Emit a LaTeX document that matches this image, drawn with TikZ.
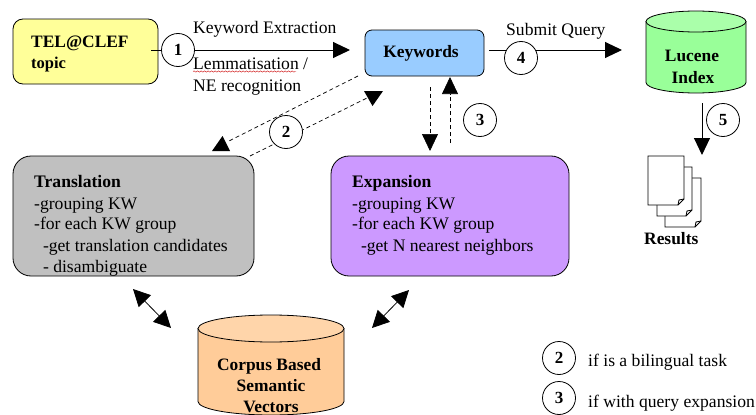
\documentclass[tikz,border=0pt]{standalone}
\usepackage{fontspec}
\setmainfont{Liberation Serif}
\usetikzlibrary{arrows.meta,decorations.pathmorphing}
\definecolor{telc}{HTML}{FFFF99}
\definecolor{kwc}{HTML}{99CCFF}
\definecolor{trc}{HTML}{C0C0C0}
\definecolor{exc}{HTML}{CC99FF}
\definecolor{luc}{HTML}{99FF99}
\definecolor{luct}{HTML}{AAFFAA}
\definecolor{coc}{HTML}{FFCC99}
\definecolor{coct}{HTML}{FFD5AA}
\tikzset{
  x=1pt,y=-1pt,
  txt/.style={inner sep=0pt,font=\fontsize{17.6}{21}\selectfont,align=left},
  btxt/.style={inner sep=0pt,font=\fontsize{17.4}{21}\selectfont\bfseries,align=center},
  box/.style={draw=black,line width=.8pt,inner sep=0pt},
  num/.style={circle,draw=black,fill=white,line width=.8pt,minimum size=33pt,inner sep=0pt,font=\fontsize{17}{18}\selectfont\bfseries},
  arr/.style={line width=1pt,-{Triangle[length=17pt,width=16pt]}},
  dashln/.style={line width=.7pt,dash pattern=on 4pt off 3pt},
  dasharr/.style={dashln,-{Triangle[length=17pt,width=16pt]}},
  tipfill/.style={fill=black,draw=none},
  biarr/.style={line width=.8pt,{Triangle[length=17pt,width=17pt]}-{Triangle[length=17pt,width=17pt]}},
  paper/.style={draw=black,fill=white,line width=.8pt},
}
\newcommand{\cyl}[7]{% left,right,top,bottom,ry,body,end
  \path[draw=black,line width=.8pt,fill=#6]
    (#1,#3+#5) -- (#1,#4-#5) arc[start angle=180,end angle=0,x radius={(#2-#1)/2},y radius=#5]
    -- (#2,#3+#5) -- cycle;
  \path[draw=black,line width=.8pt,fill=#7]
    ({(#1+#2)/2},#3+#5) ellipse[x radius={(#2-#1)/2},y radius=#5];
}
\newcommand{\docpage}[4]{% x y w h
  \path[paper] (#1,#2) -- (#1+#3,#2) -- (#1+#3,#2+#4-6) -- (#1+#3-6,#2+#4) -- (#1,#2+#4) -- cycle;
  \draw[line width=.8pt] (#1+#3,#2+#4-6) -- (#1+#3-5,#2+#4-5) -- (#1+#3-6,#2+#4);
}
\begin{document}
\begin{tikzpicture}
\useasboundingbox (0,0) rectangle (756,415);
\fill[white] (0,0) rectangle (756,415);
% boxes
\node[box,fill=telc,rounded corners=10pt,minimum width=145pt,minimum height=65pt] (tel) at (85.5,51.5) {};
\node[box,fill=kwc,rounded corners=7pt,minimum width=119pt,minimum height=46pt] (kw) at (424.5,53) {};
\node[box,fill=trc,rounded corners=18pt,minimum width=241pt,minimum height=120pt] (tr) at (133.5,216) {};
\node[box,fill=exc,rounded corners=18pt,minimum width=238pt,minimum height=120pt] (ex) at (450,216) {};
\cyl{646}{746}{11}{93}{10.5}{luc}{luct}
\cyl{198}{344}{315}{415}{13.5}{coc}{coct}
% texts
\node[btxt,anchor=base west] (teltxt) at (31,47) {TEL@CLEF};
\node[btxt,font=\fontsize{16.5}{18}\selectfont\bfseries,anchor=base west] (toptxt) at (31,68) {topic};
\node[btxt,anchor=base] (kwtxt) at (421,57) {Keywords};
\node[txt,anchor=base west] (trtxt) at (34,187) {\textbf{Translation}};
\node[txt,anchor=base west] (tr1) at (34,209.5) {-grouping KW};
\node[txt,anchor=base west] (tr2) at (34,229.5) {-for each KW group};
\node[txt,anchor=base west] (tr3) at (34,251) {\ \ -get translation candidates};
\node[txt,anchor=base west] (tr4) at (34,272) {\ \ - disambiguate};
\node[txt,anchor=base west] (extxt) at (352,187) {\textbf{Expansion}};
\node[txt,anchor=base west] (ex1) at (352,209.5) {-grouping KW};
\node[txt,anchor=base west] (ex2) at (352,229.5) {-for each KW group};
\node[txt,anchor=base west] (ex3) at (352,251) {\ \ -get N nearest neighbors};
\node[btxt,anchor=base] (lut1) at (692,61.5) {Lucene};
\node[btxt,anchor=base] (lut2) at (693,83) {Index};
\node[btxt,anchor=base] (cot1) at (269,370.5) {Corpus Based};
\node[btxt,anchor=base] (cot2) at (271,391.5) {Semantic};
\node[btxt,anchor=base] (cot3) at (271,412.5) {Vectors};
\node[btxt,anchor=base west] (res) at (644,244) {Results};
\node[txt,anchor=base west] (lkw) at (193,33) {Keyword Extraction};
\node[txt,anchor=base west] (llem) at (193,69) {Lemmatisation /};
\node[txt,anchor=base west] (lne) at (193,91.5) {NE recognition};
\node[txt,anchor=base west] (lsq) at (506,35) {Submit Query};
\node[txt,anchor=base west] (leg2) at (588,366) {if is a bilingual task};
\node[txt,anchor=base west] (leg3) at (588,407) {if with query expansion};
\draw[red!80!black,line width=.4pt,decorate,decoration={snake,amplitude=.7pt,segment length=3.5pt}] (193,71.5) -- (296,71.5);
% connector ends
\coordinate (s1) at (151,50);  \coordinate (e1) at (350,50);
\coordinate (s4) at (489,50);  \coordinate (e4) at (622,50);
\coordinate (s5) at (702,103); \coordinate (e5) at (702,155);
\coordinate (d1s) at (358,76); \coordinate (d1e) at (227,142);
\coordinate (d2s) at (250,156); \coordinate (d2e) at (367,98);
\coordinate (d3s) at (430,87); \coordinate (d3e) at (430,151);
\coordinate (d4s) at (450,143); \coordinate (d4e) at (450,77);
\coordinate (b1s) at (133,289); \coordinate (b1e) at (171,328);
\coordinate (b2s) at (372,328); \coordinate (b2e) at (409,290);
% connectors
\draw[arr] (s1) -- (e1);
\draw[arr] (s4) -- (e4);
\draw[arr] (s5) -- (e5);
\draw[dashln] (d1s) -- (d1e);
\fill[tipfill] (222.5,136) -- (230,151) -- (212,151) -- cycle;
\draw[dashln] (d2s) -- (d2e);
\fill[tipfill] (364,91) -- (383,91) -- (372.5,106) -- cycle;
\draw[dasharr] (d3s) -- (d3e);
\draw[dasharr] (d4s) -- (d4e);
\draw[biarr] (b1s) -- (b1e);
\draw[biarr] (b2s) -- (b2e);
% numbers
\node[num] (n1) at (178,50) {1};
\node[num] (n2) at (286,132) {2};
\node[num] (n3) at (480,120) {3};
\node[num] (n4) at (521,58) {4};
\node[num] (n5) at (723,120) {5};
\node[num] (g2) at (559,358) {2};
\node[num] (g3) at (559,398) {3};
% documents
\docpage{665}{178}{36}{49}
\docpage{657}{167}{35}{49}
\docpage{648}{156}{36}{49}
\end{tikzpicture}
\end{document}
